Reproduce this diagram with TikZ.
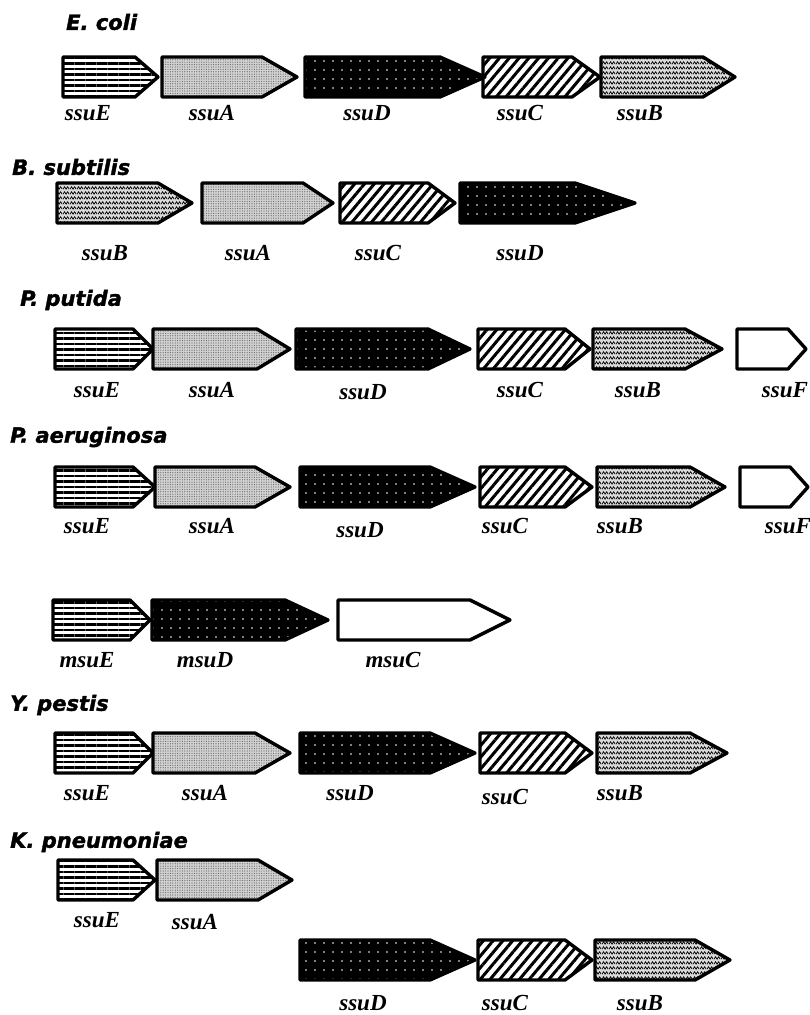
\documentclass[tikz,border=0pt]{standalone}
\usepackage{fontspec}
\newfontfamily\orgfont{DejaVu Sans Bold Oblique}[FakeBold=1.6]
\newfontfamily\genefont{Liberation Serif Bold Italic}
\usetikzlibrary{patterns,patterns.meta}
\tikzdeclarepattern{name=zigzag, type=uncolored,
  bounding box={(0pt,0pt) and (7pt,5pt)}, tile size={(7pt,5pt)},
  code={\draw[line width=0.8pt] (0pt,1pt) -- (1.75pt,3.8pt) -- (3.5pt,1pt) -- (5.25pt,3.8pt) -- (7pt,1pt);}}
\tikzset{
  gene/.style={draw=black, line width=3.4pt, line join=round},
  stripes/.style={pattern={Lines[angle=0,distance=5.5pt,line width=2.7pt]}},
  stipple/.style={preaction={fill=black!18}, pattern={Dots[distance=2.4pt,radius=0.6pt]}, pattern color=black!60},
  darkdots/.style={preaction={fill=black}, pattern={Dots[distance=9pt,radius=0.8pt]}, pattern color=white},
  hatch/.style={pattern={Lines[angle=50,distance=7.5pt,line width=3pt]}},
  wavy/.style={preaction={fill=black!15}, pattern=zigzag},
  blank/.style={fill=white},
  org/.style={anchor=west, inner sep=0pt, font=\orgfont\fontsize{21}{24}\selectfont},
  lbl/.style={inner sep=0pt, font=\genefont\fontsize{23}{25}\selectfont}
}
% x start : end of body : tip : y centre
\def\genearrow[#1](#2:#3:#4:#5){\draw[gene,#1] (#2,#5-20) -- (#3,#5-20) -- (#4,#5) -- (#3,#5+20) -- (#2,#5+20) -- cycle;}

\begin{document}
\begin{tikzpicture}[x=1pt,y=-1pt]
			%%%%% START %%%%%
			\useasboundingbox (0,0) rectangle (809,1015);
			
			% E. coli
			\node[org] (ecoli) at (66,22) {E. coli};
			\genearrow[stripes](63:135:158:77)
			\genearrow[stipple](162:262:297:77)
			\genearrow[darkdots](305:440:485:77)
			\genearrow[hatch](483:572:600:77)
			\genearrow[wavy](601:703:735:77)
			\node[lbl] (ecoliE) at (88,113) {ssuE};
			\node[lbl] (ecoliA) at (212,113) {ssuA};
			\node[lbl] (ecoliD) at (367,113) {ssuD};
			\node[lbl] (ecoliC) at (520,113) {ssuC};
			\node[lbl] (ecoliB) at (640,113) {ssuB};
			
			% B. subtilis
			\node[org] (bsub) at (12,167) {B. subtilis};
			\genearrow[wavy](57:158:192:203)
			\genearrow[stipple](202:303:333:203)
			\genearrow[hatch](340:428:455:203)
			\genearrow[darkdots](460:575:635:203)
			\node[lbl] (bsubB) at (105,253) {ssuB};
			\node[lbl] (bsubA) at (248,253) {ssuA};
			\node[lbl] (bsubC) at (378,253) {ssuC};
			\node[lbl] (bsubD) at (520,253) {ssuD};
			
			% P. putida
			\node[org] (pput) at (20,300) {P. putida};
			\genearrow[stripes](55:133:153:349)
			\genearrow[stipple](153:257:290:349)
			\genearrow[darkdots](296:428:470:349)
			\genearrow[hatch](478:565:590:349)
			\genearrow[wavy](593:685:722:349)
			\genearrow[blank](737:788:806:349)
			\node[lbl] (pputE) at (97,390) {ssuE};
			\node[lbl] (pputA) at (212,390) {ssuA};
			\node[lbl] (pputD) at (363,392) {ssuD};
			\node[lbl] (pputC) at (520,390) {ssuC};
			\node[lbl] (pputB) at (638,390) {ssuB};
			\node[lbl] (pputF) at (785,390) {ssuF};
			
			% P. aeruginosa
			\node[org] (paer) at (10,437) {P. aeruginosa};
			\genearrow[stripes](55:133:155:487)
			\genearrow[stipple](155:255:290:487)
			\genearrow[darkdots](300:430:475:487)
			\genearrow[hatch](480:565:592:487)
			\genearrow[wavy](597:690:725:487)
			\genearrow[blank](740:790:808:487)
			\node[lbl] (paerE) at (87,526) {ssuE};
			\node[lbl] (paerA) at (212,526) {ssuA};
			\node[lbl] (paerD) at (360,530) {ssuD};
			\node[lbl] (paerC) at (505,526) {ssuC};
			\node[lbl] (paerB) at (620,526) {ssuB};
			\node[lbl] (paerF) at (788,526) {ssuF};
			
			\genearrow[stripes](53:130:150:620)
			\genearrow[darkdots](152:285:328:620)
			\genearrow[blank](338:470:510:620)
			\node[lbl] (paermE) at (87,660) {msuE};
			\node[lbl] (paermD) at (205,660) {msuD};
			\node[lbl] (paermC) at (393,660) {msuC};
			
			% Y. pestis
			\node[org] (ypes) at (10,705) {Y. pestis};
			\genearrow[stripes](55:133:153:753)
			\genearrow[stipple](153:255:290:753)
			\genearrow[darkdots](300:430:475:753)
			\genearrow[hatch](480:565:592:753)
			\genearrow[wavy](597:690:727:753)
			\node[lbl] (ypesE) at (87,793) {ssuE};
			\node[lbl] (ypesA) at (205,793) {ssuA};
			\node[lbl] (ypesD) at (350,793) {ssuD};
			\node[lbl] (ypesC) at (505,797) {ssuC};
			\node[lbl] (ypesB) at (620,793) {ssuB};
			
			% K. pneumoniae
			\node[org] (kpne) at (10,842) {K. pneumoniae};
			\genearrow[stripes](58:133:155:880)
			\genearrow[stipple](157:258:292:880)
			\node[lbl] (kpneE) at (97,920) {ssuE};
			\node[lbl] (kpneA) at (195,922) {ssuA};
			\genearrow[darkdots](300:430:475:960)
			\genearrow[hatch](478:565:592:960)
			\genearrow[wavy](595:695:730:960)
			\node[lbl] (kpneD) at (363,1003) {ssuD};
			\node[lbl] (kpneC) at (505,1003) {ssuC};
			\node[lbl] (kpneB) at (640,1003) {ssuB};
			
			%%%%% END %%%%%
\end{tikzpicture}
\end{document}
